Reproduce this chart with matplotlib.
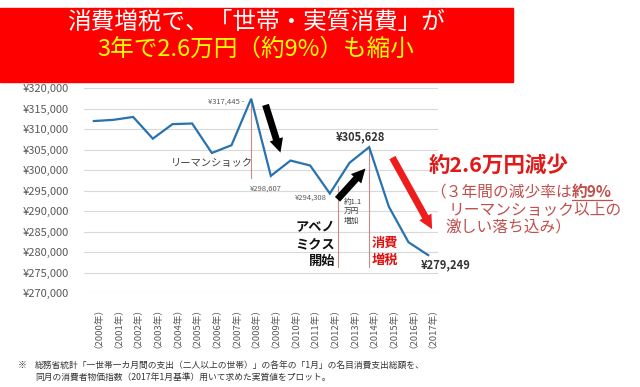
import matplotlib
matplotlib.use("Agg")
import matplotlib.pyplot as plt
from matplotlib.patches import Rectangle
from matplotlib.lines import Line2D

plt.rcParams['font.family'] = ['Noto Sans CJK JP', 'DejaVu Sans']

years = [f"（{y}年）" for y in range(2000, 2018)]
values = [312000, 312300, 313000, 307700, 311250, 311400, 304200, 306100,
          317445, 298607, 302350, 301140, 294308, 301800, 305628, 291100,
          282400, 279249]
yticks = list(range(270000, 320001, 5000))
ytick_labels = [f"¥{v:,}" for v in yticks]

W, H = 640, 387
fig = plt.figure(figsize=(6.4, 3.87), dpi=100)
fig.patch.set_facecolor('white')

def fx(px):
    return px / W

def fy(py):
    return 1 - py / H

ax = fig.add_axes([fx(84), fy(293), fx(438) - fx(84), fy(88.3) - fy(293)])
x = list(range(len(years)))
ax.plot(x, values, color='#2872ae', lw=1.6, zorder=3, solid_joinstyle='miter')
ax.set_xlim(-0.5, len(years) - 0.5)
ax.set_ylim(270000, 320000)
ax.set_yticks(yticks)
ax.set_yticklabels(ytick_labels, fontsize=8, color='#595959')
ax.set_xticks(x)
ax.set_xticklabels(years, rotation=90, fontsize=6.8, color='#595959', va='top')
ax.tick_params(axis='y', length=0, pad=11)
ax.tick_params(axis='x', length=0, pad=4)
for s in ax.spines.values():
    s.set_visible(False)
ax.grid(axis='y', color='#d9d9d9', lw=0.8, zorder=0)
ax.set_axisbelow(True)

# vertical marker lines
vcol = '#c98a8a'
ax.plot([8, 8], [values[8], 298200], color=vcol, lw=0.8, zorder=2)
ax.plot([12.39, 12.39], [296030, 276400], color=vcol, lw=0.8, zorder=2)
ax.plot([14, 14], [values[14], 276400], color=vcol, lw=0.8, zorder=2)

# arrows
def arrow(x0, y0, x1, y1, color):
    ax.annotate('', xy=(x1, y1), xytext=(x0, y0),
                arrowprops=dict(arrowstyle='simple,head_length=1.0,head_width=1.0,tail_width=0.5',
                                mutation_scale=10, color=color, lw=0, shrinkA=0, shrinkB=0),
                annotation_clip=False, zorder=5)

arrow(8.73, 315950, 9.49, 304300, 'black')
arrow(12.39, 292890, 13.81, 300410, 'black')
arrow(15.18, 303080, 17.2, 285600, '#ee1c1c')

small = dict(fontsize=5.5, color='#595959', clip_on=False)
ax.text(7.66, 316750, f"¥{values[8]:,} -", ha='right', va='center', **small)
ax.text(8.73, 295560, f"¥{values[9]:,}", ha='center', va='center', **small)
ax.text(11.02, 293380, f"¥{values[12]:,}", ha='center', va='center', **small)
ax.text(8.1, 301870, "リーマンショック", ha='right', va='center', fontsize=7.4,
        color='#404040')
ax.text(12.69, 293140, "約1.1\n万円\n増加", ha='left', va='top', fontsize=5.5,
        color='#404040', linespacing=1.25)
ax.text(12.28, 282000, "アベノ\nミクス\n開始", ha='right', va='center', fontsize=9.5,
        fontweight='bold', color='#111111', linespacing=1.25, multialignment='right')
ax.text(14.11, 280130, "消費\n増税", ha='left', va='center', fontsize=9.5,
        fontweight='bold', color='#e01010', linespacing=1.25)
ax.text(13.55, 308180, f"¥{values[14]:,}", ha='center', va='center', fontsize=8,
        fontweight='bold', color='#333333')
ax.text(16.6, 276870, f"¥{values[17]:,}", ha='left', va='center', fontsize=8,
        fontweight='bold', color='#333333', clip_on=False)

# title box
fig.patches.append(Rectangle((0, fy(82)), fx(513), fy(8) - fy(82),
                             transform=fig.transFigure, color='#ff0000', zorder=0))
fig.text(fx(256), fy(22), "消費増税で、「世帯・実質消費」が", ha='center', va='center',
         fontsize=17, color='white')
fig.text(fx(256), fy(49), "3年で2.6万円（約9%）も縮小", ha='center', va='center',
         fontsize=17, color='#ffff00')

# right annotation
fig.text(fx(429), fy(165), "約2.6万円減少", ha='left', va='center', fontsize=15.5,
         fontweight='bold', color='#e01a1a')
pcol = '#c0504d'
fs = 11.3
t1 = fig.text(fx(430), fy(192), "（３年間の減少率は", ha='left', va='center',
              fontsize=fs, color=pcol)
fig.canvas.draw()
bb = t1.get_window_extent()
x_end = bb.x1 / W
t2 = fig.text(x_end, fy(192), "約9%", ha='left', va='center', fontsize=fs,
              color=pcol, fontweight='bold')
fig.canvas.draw()
bb2 = t2.get_window_extent()
fig.add_artist(Line2D([bb2.x0 / W, bb2.x1 / W], [fy(199.5), fy(199.5)],
                      color=pcol, lw=0.9, transform=fig.transFigure))
fig.text(fx(449), fy(210), "リーマンショック以上の", ha='left', va='center',
         fontsize=fs, color=pcol)
fig.text(fx(445), fy(228), "激しい落ち込み）", ha='left', va='center',
         fontsize=fs, color=pcol)

# footnote
fig.text(fx(18), fy(365), "※", ha='left', va='center', fontsize=6.3, color='#333333')
fig.text(fx(35), fy(365),
         "総務省統計「一世帯一カ月間の支出（二人以上の世帯）」の各年の「1月」の名目消費支出総額を、",
         ha='left', va='center', fontsize=6.3, color='#333333')
fig.text(fx(35), fy(377),
         "同月の消費者物価指数（2017年1月基準）用いて求めた実質値をプロット。",
         ha='left', va='center', fontsize=6.3, color='#333333')

fig.savefig('out.png', dpi=100, facecolor='white')
